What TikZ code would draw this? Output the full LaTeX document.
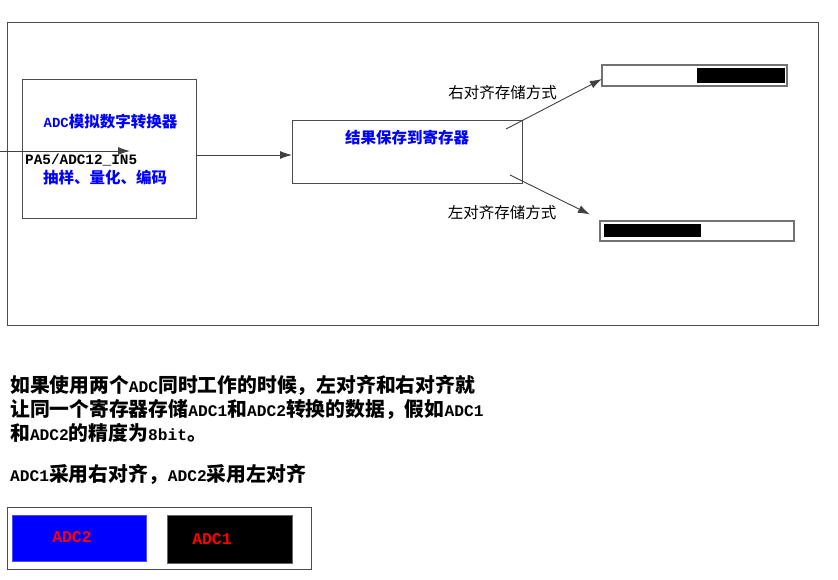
\documentclass[tikz,border=0pt]{standalone}
\usepackage{fontspec}
\setmainfont{Liberation Serif}
\newfontfamily\cjk{Noto Sans CJK SC}
\newfontfamily\mono[Scale=0.82]{Liberation Mono}
\usetikzlibrary{arrows.meta}
\newcommand{\lt}[1]{{\mono #1}}
\begin{document}
\begin{tikzpicture}[x=1pt,y=-1pt,
  line/.style={draw=black!75, line width=0.9pt},
  arr/.style={line, -{Latex[length=12pt,width=8pt]}},
  box/.style={draw=black!70, line width=1pt, inner sep=0pt, outer sep=0pt},
  bar/.style={draw=black!55, line width=1.3pt, inner sep=0pt, outer sep=0pt},
  bluetxt/.style={text=blue, font=\cjk\bfseries\fontsize{15.5}{18}\selectfont, inner sep=0pt},
  lbltxt/.style={text=black, font=\cjk\fontsize{15.5}{18}\selectfont, inner sep=0pt},
  bodytxt/.style={text=black, font=\cjk\bfseries\fontsize{19.8}{24}\selectfont, inner sep=0pt, anchor=west},
  redtxt/.style={text=red, font=\mono\bfseries\fontsize{20}{22}\selectfont, inner sep=0pt}
]
\useasboundingbox (0,0) rectangle (838,579);
\fill[white] (0,0) rectangle (838,579);

% outer frame
\node[box, minimum width=811pt, minimum height=303pt] (frame) at (412.5,173.5) {};
% ADC box
\node[box, minimum width=174pt, minimum height=139pt] (adc) at (109,148.5) {};
% register box
\node[box, minimum width=230pt, minimum height=63pt] (reg) at (407,151.5) {};
% bars
\node[bar, minimum width=185pt, minimum height=21pt] (ubar) at (694.5,75.5) {};
\node[fill=black, inner sep=0pt, minimum width=88pt, minimum height=15pt] (ufill) at (741,75.5) {};
\node[bar, minimum width=194pt, minimum height=20pt] (lbar) at (697,231) {};
\node[fill=black, inner sep=0pt, minimum width=97pt, minimum height=13pt] (lfill) at (652.5,230.5) {};

% texts in diagram
\node[bluetxt] (t1) at (110.5,122) {{\fontsize{17}{18}\selectfont\lt{ADC}}模拟数字转换器};
\node[text=black, font=\mono\bfseries\fontsize{17.5}{18}\selectfont, inner sep=0pt, anchor=west] (t2) at (25,160) {PA5/ADC12\_IN5};
\node[bluetxt] (t3) at (105,178) {抽样、量化、编码};
\node[bluetxt] (t4) at (407,138) {结果保存到寄存器};
\node[lbltxt] (t5) at (502.5,93) {右对齐存储方式};
\node[lbltxt] (t6) at (502,213) {左对齐存储方式};

% connectors
\coordinate (in0) at (0,151);
\coordinate (in1) at (130,151);
\draw[arr] (in0) -- (in1);
\draw[arr] ([yshift=-6.5pt]adc.east) -- ([yshift=-3.5pt]reg.west);
\coordinate (u0) at (506,129);
\draw[arr] (u0) -- ([yshift=-3.5pt]ubar.west);
\coordinate (l0) at (510,175);
\coordinate (l1) at (590,214.5);
\draw[arr] (l0) -- (l1);

% body text
\node[bodytxt] (b1) at (10,385) {如果使用两个\lt{ADC}同时工作的时候，左对齐和右对齐就};
\node[bodytxt] (b2) at (10,409) {让同一个寄存器存储\lt{ADC1}和\lt{ADC2}转换的数据，假如\lt{ADC1}};
\node[bodytxt] (b3) at (10,433) {和\lt{ADC2}的精度为\lt{8bit}。};
\node[bodytxt] (b4) at (10,474) {\lt{ADC1}采用右对齐，\lt{ADC2}采用左对齐};

% bottom boxes
\node[box, minimum width=304pt, minimum height=62pt] (bframe) at (159,538) {};
\node[draw=blue!70, fill=blue, inner sep=0pt, minimum width=134pt, minimum height=46pt] (adc2box) at (79,538) {};
\node[draw=black!60, fill=black, inner sep=0pt, minimum width=125pt, minimum height=48pt] (adc1box) at (229.5,539) {};
\node[redtxt] (r2) at (72,537) {ADC2};
\node[redtxt] (r1) at (212,539) {ADC1};
\end{tikzpicture}
\end{document}
